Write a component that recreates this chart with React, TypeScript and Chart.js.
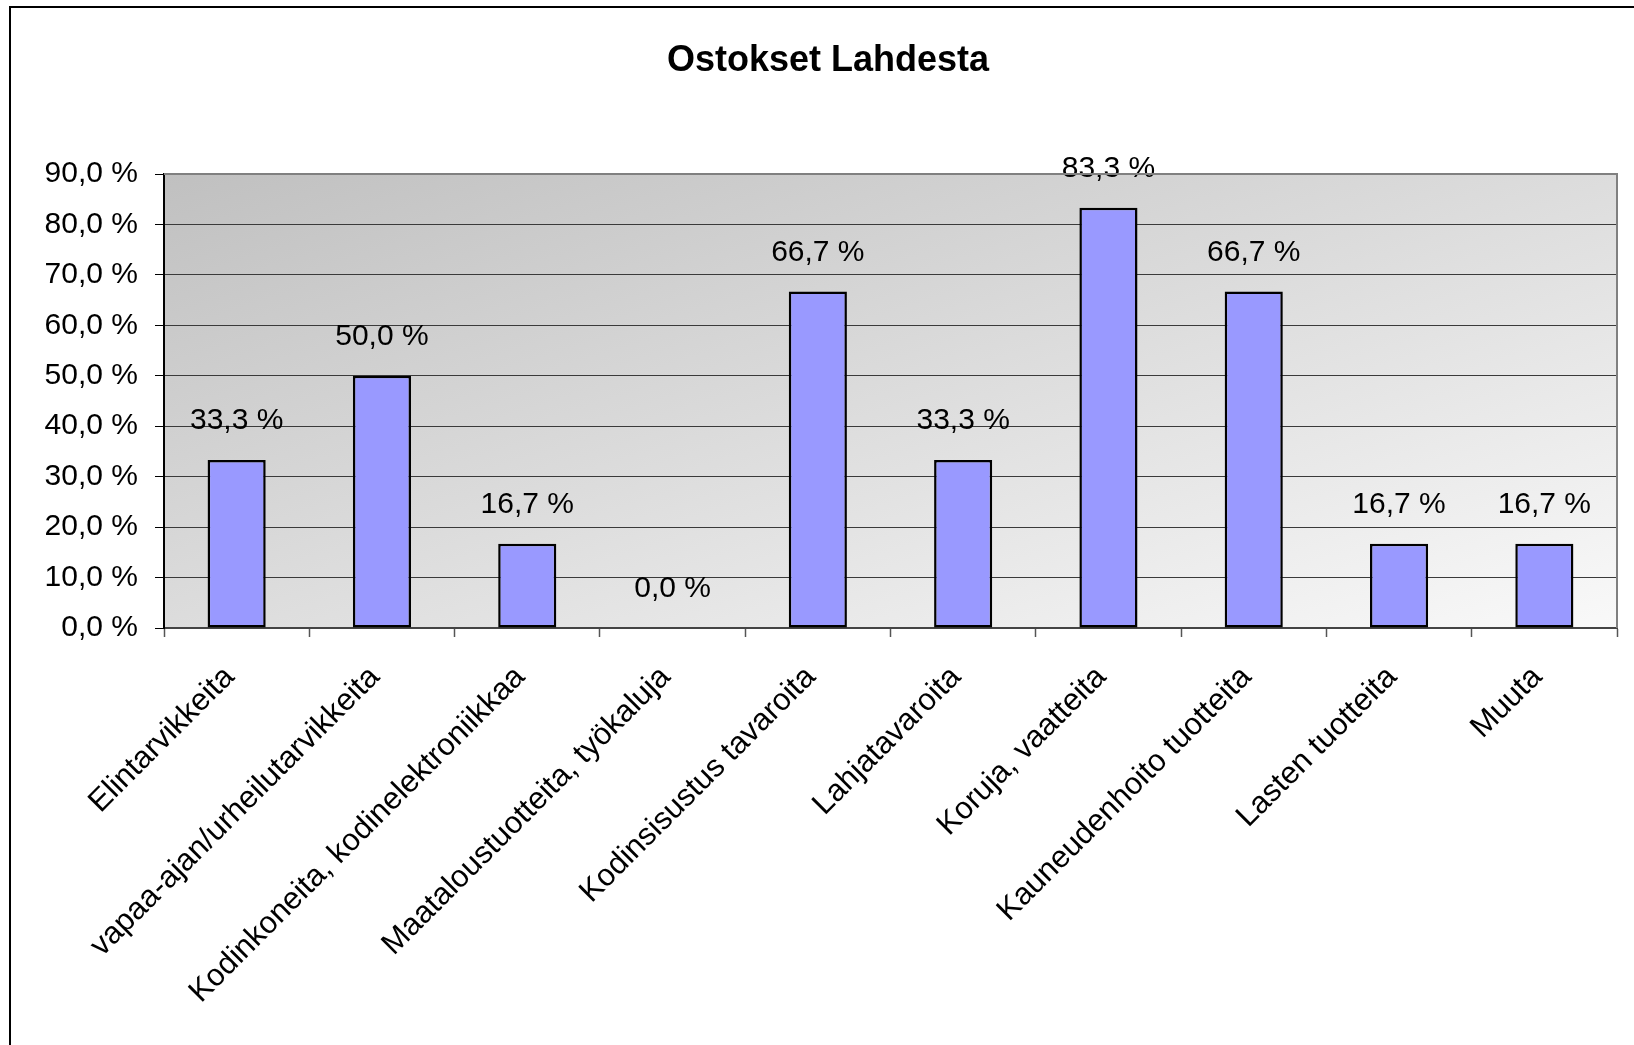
import React, { useEffect, useRef } from "react";
import { Chart, registerables } from "chart.js";

Chart.register(...registerables);

const chartTitle = "Ostokset Lahdesta";
const categories = [
  "Elintarvikkeita",
  "vapaa-ajan/urheilutarvikkeita",
  "Kodinkoneita, kodinelektroniikkaa",
  "Maataloustuotteita, työkaluja",
  "Kodinsisustus tavaroita",
  "Lahjatavaroita",
  "Koruja, vaatteita",
  "Kauneudenhoito tuotteita",
  "Lasten tuotteita",
  "Muuta",
];
const values = [33.3, 50.0, 16.7, 0.0, 66.7, 33.3, 83.3, 66.7, 16.7, 16.7];
const yMin = 0;
const yMax = 90;
const yStep = 10;

const FONT = "'Liberation Sans', Arial, sans-serif";
const fmt = (v: number) => v.toFixed(1).replace(".", ",") + " %";

const W = 1634;
const H = 1045;

const decorPlugin = {
  id: "decor",
  beforeDraw(chart: any) {
    const { ctx, chartArea } = chart;
    const { left, top, right, bottom } = chartArea;
    const w = right - left;
    const h = bottom - top;
    ctx.save();
    // outer frame (left and top)
    ctx.strokeStyle = "#000";
    ctx.lineWidth = 2;
    ctx.beginPath();
    ctx.moveTo(10, H);
    ctx.lineTo(10, 7);
    ctx.lineTo(W, 7);
    ctx.stroke();
    // title
    ctx.fillStyle = "#000";
    ctx.font = `bold 36px ${FONT}`;
    ctx.textAlign = "center";
    ctx.textBaseline = "middle";
    ctx.fillText(chartTitle, 828, 61);
    // plot background gradient
    const k = (2 * w * h) / (w * w + h * h);
    const g = ctx.createLinearGradient(left, top, left + k * h, top + k * w);
    g.addColorStop(0, "#c0c0c0");
    g.addColorStop(1, "#f9f9f9");
    ctx.fillStyle = g;
    ctx.fillRect(left, top, w, h);
    ctx.restore();
  },
  afterDraw(chart: any) {
    const { ctx, chartArea } = chart;
    const { left, top, right, bottom } = chartArea;
    ctx.save();
    ctx.strokeStyle = "#808080";
    ctx.lineWidth = 2;
    ctx.beginPath();
    ctx.moveTo(left, top);
    ctx.lineTo(right, top);
    ctx.lineTo(right, bottom);
    ctx.stroke();
    ctx.restore();
  },
  afterDatasetsDraw(chart: any) {
    const { ctx } = chart;
    const meta = chart.getDatasetMeta(0);
    ctx.save();
    ctx.fillStyle = "#000";
    ctx.font = `30px ${FONT}`;
    ctx.textAlign = "center";
    ctx.textBaseline = "middle";
    meta.data.forEach((bar: any, i: number) => {
      ctx.fillText(fmt(values[i]), bar.x, bar.y - 39);
    });
    ctx.restore();
  },
};

export default function App() {
  const ref = useRef<HTMLCanvasElement | null>(null);
  useEffect(() => {
    if (!ref.current) return;
    const chart = new Chart(ref.current, {
      type: "bar",
      data: {
        labels: categories,
        datasets: [
          {
            data: values,
            backgroundColor: "#9999ff",
            borderColor: "#000",
            borderWidth: 2.5,
            borderSkipped: false,
            barPercentage: 0.4,
            categoryPercentage: 1,
          },
        ],
      },
      options: {
        animation: false,
        responsive: false,
        maintainAspectRatio: false,
        devicePixelRatio: 1,
        layout: { padding: { left: 0, right: 17, top: 174, bottom: 0 } },
        plugins: {
          legend: { display: false },
          title: { display: false },
          tooltip: { enabled: false },
        },
        scales: {
          x: {
            offset: true,
            grid: {
              offset: true,
              drawOnChartArea: false,
              drawTicks: true,
              tickLength: 9,
              tickColor: "#555",
              tickWidth: 1.5,
            },
            border: { display: true, color: "#444", width: 2 },
            ticks: {
              autoSkip: false,
              maxRotation: 45,
              minRotation: 45,
              padding: 22,
              labelOffset: -7,
              color: "#000",
              font: { family: FONT, size: 31 },
            },
            afterFit(scale: any) {
              scale.height = H - 628;
            },
          },
          y: {
            min: yMin,
            max: yMax,
            ticks: {
              stepSize: yStep,
              padding: 17,
              color: "#000",
              font: { family: FONT, size: 30 },
              callback: (v: any) => fmt(Number(v)),
            },
            grid: {
              color: "#3a3a3a",
              lineWidth: 1,
              drawTicks: true,
              tickLength: 9,
              tickColor: "#000",
            },
            border: { display: true, color: "#000", width: 2 },
            afterFit(scale: any) {
              scale.width = 164;
            },
          },
        },
      },
      plugins: [decorPlugin],
    });
    return () => chart.destroy();
  }, []);
  return (
    <div style={{ position: "absolute", left: 0, top: 0, width: W, height: H, background: "#fff" }}>
      <canvas ref={ref} width={W} height={H} style={{ display: "block", width: W, height: H }} />
    </div>
  );
}
